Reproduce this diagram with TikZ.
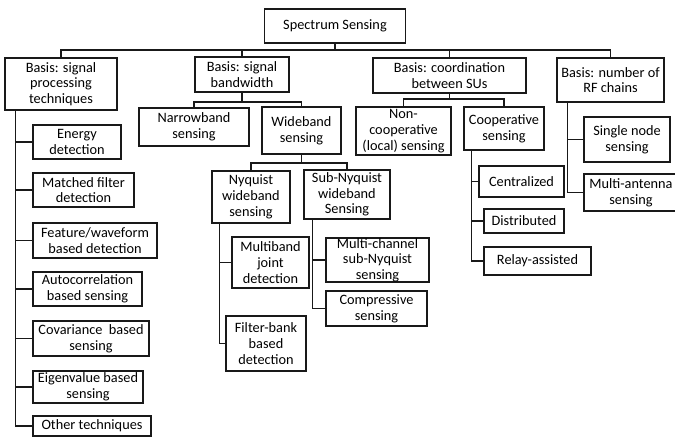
\documentclass[tikz,border=0pt]{standalone}
\usepackage{fontspec}
\setmainfont{Carlito}
\begin{document}
\begin{tikzpicture}[x=1pt,y=-1pt,
  box/.style={draw=black!90, line width=1.1pt, inner sep=0pt, align=center,
    font=\fontsize{14.3}{15.7}\selectfont},
  sz/.style 2 args={minimum width=#1pt, minimum height=#2pt},
  conn/.style={draw=black!90, line width=1.1pt}]
\useasboundingbox (0,0) rectangle (675,440);
\fill[white] (0,0) rectangle (675,440);
% level 0 and 1
\node[box,sz={141}{34}] (root) at (335,26) {Spectrum Sensing};
\node[box,sz={112}{52}] (b1) at (61,84) {Basis: signal\\processing\\techniques};
\node[box,sz={94}{35}] (b2) at (242,74.5) {Basis: signal\\bandwidth};
\node[box,sz={153}{35}] (b3) at (449.5,75.5) {Basis: coordination\\between SUs};
\node[box,sz={107}{44}] (b4) at (610.5,80) {Basis: number of\\RF chains};
% signal processing children
\node[box,sz={88}{34}] (e1) at (77,142) {Energy\\detection};
\node[box,sz={101}{34}] (e2) at (83.5,190) {Matched filter\\detection};
\node[box,sz={124}{35}] (e3) at (95,240.5) {Feature/waveform\\based detection};
\node[box,sz={109}{34}] (e4) at (87.5,289) {Autocorrelation\\based sensing};
\node[box,sz={116}{35}] (e5) at (91,338.5) {Covariance\ \ based\\sensing};
\node[box,sz={110}{32}] (e6) at (88,387) {Eigenvalue based\\sensing};
\node[box,sz={118}{20}] (e7) at (92,426) {Other techniques};
% bandwidth children
\node[box,sz={110}{38}] (n1) at (194,127) {Narrowband\\sensing};
\node[box,sz={79}{47}] (n2) at (301.5,130.5) {Wideband\\sensing};
\node[box,sz={78}{52}] (w1) at (251,197) {Nyquist\\wideband\\sensing};
\node[box,sz={86}{49}] (w2) at (347,194.5) {Sub-Nyquist\\wideband\\Sensing};
\node[box,sz={77}{51}] (m1) at (270.5,262.5) {Multiband\\joint\\detection};
\node[box,sz={80}{55}] (m2) at (266,343.5) {Filter-bank\\based\\detection};
\node[box,sz={103}{44}] (s1) at (377.5,260) {Multi-channel\\sub-Nyquist\\sensing};
\node[box,sz={101}{35}] (s2) at (376.5,308.5) {Compressive\\sensing};
% coordination children
\node[box,sz={95}{48}] (c1) at (403.5,131) {Non-\\cooperative\\(local) sensing};
\node[box,sz={80}{43}] (c2) at (504,128.5) {Cooperative\\sensing};
\node[box,sz={85}{31}] (d1) at (521.5,181.5) {Centralized};
\node[box,sz={80}{24}] (d2) at (524,221) {Distributed};
\node[box,sz={107}{28}] (d3) at (537.5,261) {Relay-assisted};
% RF chain children
\node[box,sz={86}{45}] (r1) at (627,139.5) {Single node\\sensing};
\node[box,sz={94}{37}] (r2) at (631,192.5) {Multi-antenna\\sensing};
% buses
\coordinate (bus0) at (335,50);
\draw[conn] (root.south) -- (bus0);
\draw[conn] (b1.north) |- (bus0) -| (b4.north);
\draw[conn] (b2.north) -- (b2.north |- bus0);
\draw[conn] (b3.north) -- (b3.north |- bus0);
\coordinate (bus1) at (242,102);
\draw[conn] (b2.south) -- (bus1);
\draw[conn] (n1.north) |- (bus1) -| (n2.north);
\coordinate (bus2) at (301.5,163);
\draw[conn] (n2.south) -- (bus2);
\draw[conn] (w1.north) |- (bus2) -| (w2.north);
\coordinate (bus3) at (449.5,99);
\draw[conn] (b3.south) -- (bus3);
\draw[conn] (c1.north) |- (bus3) -| (c2.north);
% trunks
\foreach \c in {e1,e2,e3,e4,e5,e6,e7}
  \draw[conn] ([xshift=11pt]b1.south west) |- (\c.west);
\foreach \c in {m1,m2}
  \draw[conn] ([xshift=8pt]w1.south west) |- (\c.west);
\foreach \c in {s1,s2}
  \draw[conn] ([xshift=9pt]w2.south west) |- (\c.west);
\foreach \c in {d1,d2,d3}
  \draw[conn] ([xshift=8pt]c2.south west) |- (\c.west);
\foreach \c in {r1,r2}
  \draw[conn] ([xshift=11pt]b4.south west) |- (\c.west);
\end{tikzpicture}
\end{document}
